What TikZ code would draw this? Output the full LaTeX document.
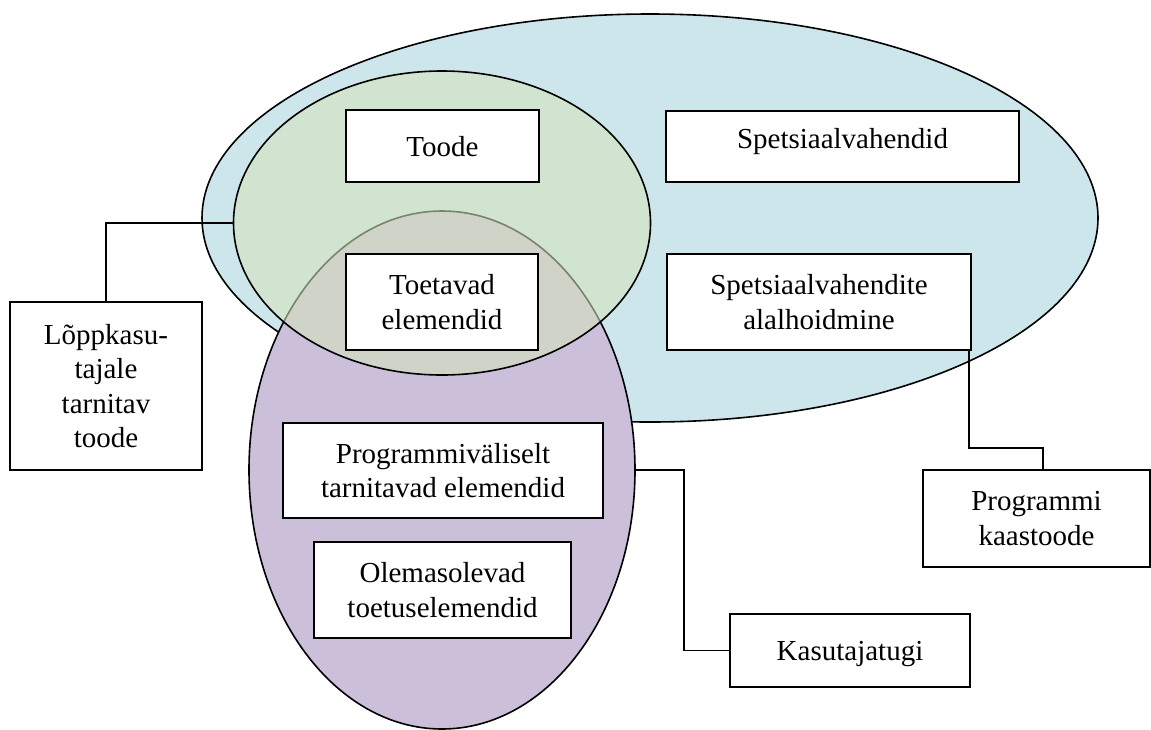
\documentclass[tikz,border=0pt]{standalone}
\usepackage{fontspec}
\setmainfont{Liberation Serif}
\usetikzlibrary{shapes.geometric}
\newcommand\diagfont{\fontsize{29}{34.5}\selectfont}
\definecolor{skyfill}{RGB}{205,230,236}
\definecolor{lilacfill}{RGB}{203,191,217}
\definecolor{sagefill}{RGB}{211,227,188}
\begin{document}
\begin{tikzpicture}[x=1pt,y=-1pt,
  outline/.style={line width=1.6pt, draw=black},
  region/.style={ellipse, outline, inner sep=0pt},
  box/.style={rectangle, outline, fill=white, inner sep=0pt, align=center, font=\diagfont},
  oneline/.style={text height=20pt, text depth=0pt},
  link/.style={line width=1.5pt}]
\useasboundingbox (0,0) rectangle (1151,729);

% overlapping regions
\node[region, fill=skyfill, minimum width=896pt, minimum height=408pt] (sky) at (650,218) {};
\node[region, fill=lilacfill, minimum width=386pt, minimum height=518pt] (lilac) at (442,470) {};
\node[region, fill=sagefill, fill opacity=0.58, minimum width=417pt, minimum height=304pt] (sage) at (442,223) {};

% element boxes
\node[box, oneline, minimum width=193pt, minimum height=72pt] (toode) at (442.5,146) {Toode};
\node[box, text height=20pt, text depth=17pt, minimum width=353pt, minimum height=71pt] (spets) at (842.5,146.5) {Spetsiaalvahendid};
\node[box, minimum width=192pt, minimum height=96pt] (toet) at (442,302) {Toetavad\\elemendid};
\node[box, minimum width=304pt, minimum height=96pt] (alal) at (819,302) {Spetsiaalvahendite\\alalhoidmine};
\node[box, minimum width=320pt, minimum height=95pt] (prog) at (443,470.5) {Programmiväliselt\\tarnitavad elemendid};
\node[box, minimum width=257pt, minimum height=96pt] (olem) at (442.5,590) {Olemasolevad\\toetuselemendid};
\node[box, minimum width=192pt, minimum height=168pt] (lopp) at (106,386) {Lõppkasu-\\tajale\\tarnitav\\toode};
\node[box, minimum width=227pt, minimum height=97pt] (kaas) at (1036.5,518.5) {Programmi\\kaastoode};
\node[box, oneline, minimum width=240pt, minimum height=73pt] (kasu) at (850,650.5) {Kasutajatugi};

% connectors
\draw[link] (sage.west) -| (lopp.north);
\draw[link] ([xshift=-3pt]alal.south east) -- ++(0,97) -| ([xshift=6.5pt]kaas.north);
\draw[link] (lilac.east) -- ++(48,0) |- (kasu.west);
\end{tikzpicture}
\end{document}
